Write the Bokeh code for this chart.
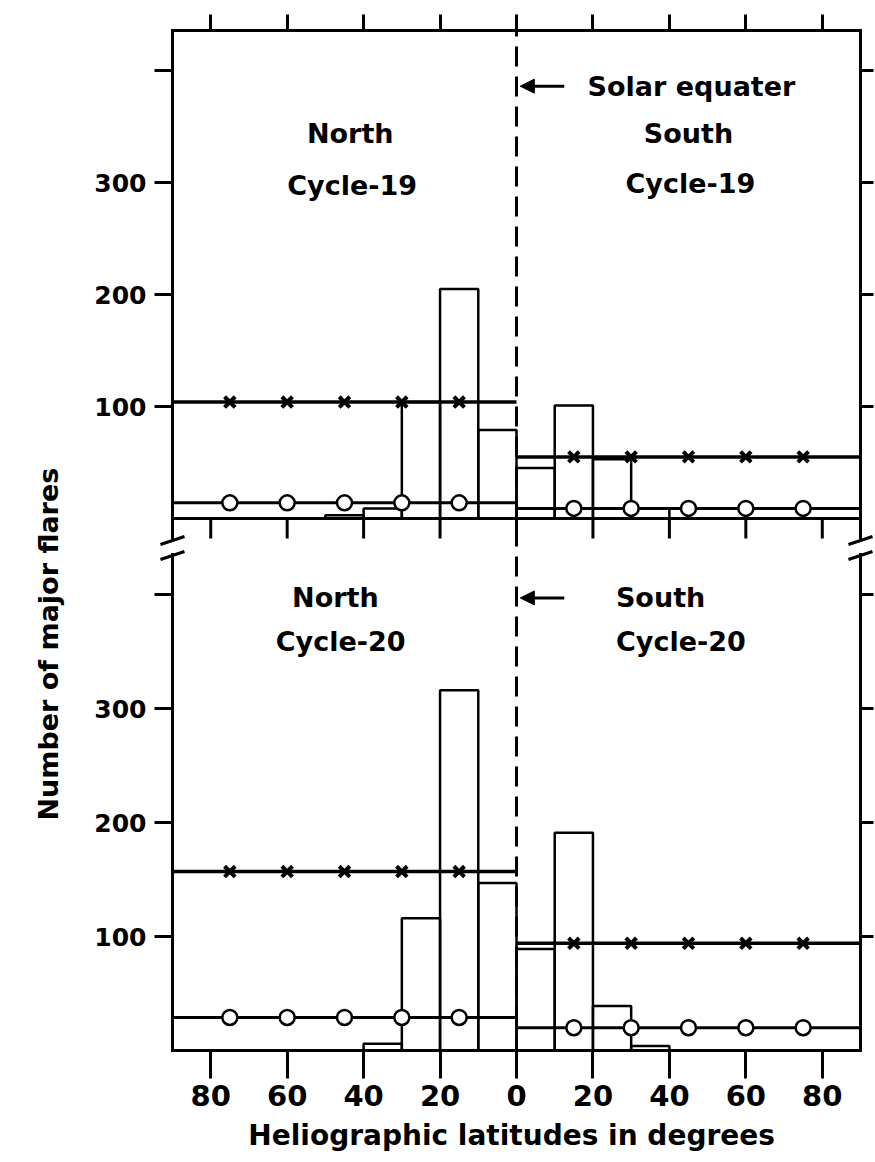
import math
from bokeh.plotting import figure
from bokeh.models import (Range1d, LinearAxis, FixedTicker, CustomJSTickFormatter,
                          Span, Arrow, NormalHead, Title)
from bokeh.embed import file_html
from bokeh.resources import INLINE
from bokeh.core.properties import value

# ---------------- data ----------------
bin_low = [0, 10, 20, 30, 40]            # |latitude| lower edge of 10-degree bins
c19_north = [79, 205, 104, 9, 3]         # Cycle-19 northern hemisphere counts
c19_south = [45, 101, 53, 9, 0]          # Cycle-19 southern hemisphere counts
c20_north = [147, 316, 116, 6, 0]        # Cycle-20 northern hemisphere counts
c20_south = [89, 191, 39, 4, 0]          # Cycle-20 southern hemisphere counts
c19_cross = [104, 55]                    # north, south level (x-marked line)
c19_ring = [14, 9]                       # north, south level (o-marked line)
c20_cross = [157, 94]
c20_ring = [29, 20]
marker_lat = [15, 30, 45, 60, 75]
x_ticks = [-80, -60, -40, -20, 0, 20, 40, 60, 80]
y_ticks = [100, 200, 300, 400]

FONT = "DejaVu Sans"
FSTYLE = "bold"

# ---------------- geometry ----------------
PAD = 14                # frame padding (px) so the drawn box and break marks are not clipped
BOX_W, BOX_H = 688, 1020
X_SCALE = BOX_W / 180.0
B_SCALE = 1.14          # px per flare, lower panel
T_SCALE = 1.12          # px per flare, upper panel
T_BASE_PX = 532         # upper panel baseline, px above box bottom
M_TOP = BOX_H / B_SCALE
T_BOT = -T_BASE_PX / T_SCALE
T_TOP = (BOX_H - T_BASE_PX) / T_SCALE
m0, m1 = -PAD / B_SCALE, M_TOP + PAD / B_SCALE
t0, t1 = T_BOT - PAD / T_SCALE, T_TOP + PAD / T_SCALE
k_tm = (t1 - t0) / (m1 - m0)
xpad = PAD / X_SCALE

def top_to_main(v):
    return m0 + (v - t0) / k_tm

p = figure(frame_width=BOX_W + 2 * PAD, frame_height=BOX_H + 2 * PAD,
           x_range=Range1d(-90 - xpad, 90 + xpad), y_range=Range1d(m0, m1),
           x_axis_location=None, y_axis_location=None,
           output_backend="svg", toolbar_location=None,
           min_border_left=172 - PAD, min_border_top=30 - PAD,
           min_border_right=0, min_border_bottom=0)
p.extra_y_ranges = {"top": Range1d(t0, t1)}
p.grid.visible = False
p.outline_line_color = None

# ---------------- axes ----------------
def style_axis(ax, tick_len, font_size, standoff):
    ax.axis_line_color = None
    ax.major_tick_out = tick_len - PAD
    ax.major_tick_in = PAD
    ax.major_tick_line_width = 3
    ax.major_tick_line_color = "black"
    ax.minor_tick_line_color = None
    ax.major_label_text_font = FONT
    ax.major_label_text_font_style = FSTYLE
    ax.major_label_text_font_size = font_size
    ax.major_label_text_color = "black"
    ax.major_label_standoff = standoff

blank = CustomJSTickFormatter(code="return '';")

xb = LinearAxis(ticker=FixedTicker(ticks=x_ticks),
                formatter=CustomJSTickFormatter(code="return Math.abs(tick).toString();"))
style_axis(xb, 28, "29px", 6)
xb.axis_label = "Heliographic  latitudes in degrees"
xb.axis_label_text_font = FONT
xb.axis_label_text_font_size = "28px"
xb.axis_label_text_font_style = FSTYLE
xb.axis_label_text_color = "black"
xb.axis_label_standoff = 10
p.add_layout(xb, "below")

xt = LinearAxis(ticker=FixedTicker(ticks=x_ticks), formatter=blank)
style_axis(xt, 16, "1px", 0)
p.add_layout(xt, "above")

split = top_to_main(0) - 10
left_ticks = list(y_ticks) + [top_to_main(v) for v in y_ticks]
ylab_fmt = CustomJSTickFormatter(
    args=dict(split=split, m0=m0, t0=t0, k=k_tm),
    code="""
    let v = tick > split ? Math.round((tick - m0) * k + t0) : Math.round(tick);
    return v >= 400 ? '' : v.toString();
    """)
yl = LinearAxis(ticker=FixedTicker(ticks=left_ticks), formatter=ylab_fmt)
style_axis(yl, 18, "25px", 8)
p.add_layout(yl, "left")

yr = LinearAxis(ticker=FixedTicker(ticks=left_ticks), formatter=blank)
style_axis(yr, 13, "1px", 0)
p.add_layout(yr, "right")

p.add_layout(Title(text="Number of major flares", text_font=FONT, text_font_style=FSTYLE,
                   text_font_size="27px", text_color="black", align="left",
                   vertical_align="top", standoff=52, offset=244), "left")

# ---------------- box, panel baseline, breaks ----------------
box = dict(line_color="black", line_width=3, line_cap="square")
gap_hi_t = -19 / T_SCALE                       # upper side lines end here (top units)
gap_lo_m = top_to_main(gap_hi_t) - 17 / B_SCALE  # lower side lines start here (main units)
p.segment(x0=[-90, -90, 90], x1=[90, -90, 90], y0=[T_TOP, T_TOP, T_TOP],
          y1=[T_TOP, gap_hi_t, gap_hi_t], y_range_name="top", **box)
p.segment(x0=[-90, -90, 90], x1=[90, -90, 90], y0=[0, 0, 0],
          y1=[0, gap_lo_m, gap_lo_m], **box)
p.segment(x0=-90, x1=90, y0=0, y1=0, y_range_name="top", line_color="black", line_width=3)
p.segment(x0=x_ticks, x1=x_ticks, y0=[0] * len(x_ticks), y1=[-20 / T_SCALE] * len(x_ticks),
          y_range_name="top", line_color="black", line_width=3)
bx0, bx1, by = [], [], []
gap_hi_m = top_to_main(gap_hi_t)
for xe in (-90, 90):
    for yc in (gap_hi_m - 3 / B_SCALE, gap_lo_m - 1 / B_SCALE):
        bx0.append(xe - 12 / X_SCALE); bx1.append(xe + 12 / X_SCALE); by.append(yc)
p.segment(x0=bx0, x1=bx1, y0=[y - 4 / B_SCALE for y in by], y1=[y + 4 / B_SCALE for y in by],
          line_color="black", line_width=3)

# ---------------- bars ----------------
def draw_bars(north, south, rng):
    left, right, top = [], [], []
    for lo, n, s in zip(bin_low, north, south):
        if n > 0:
            left.append(-(lo + 10)); right.append(-lo); top.append(n)
        if s > 0:
            left.append(lo); right.append(lo + 10); top.append(s)
    kw = {} if rng is None else {"y_range_name": rng}
    p.quad(left=left, right=right, bottom=[0] * len(top), top=top,
           fill_color=None, line_color="black", line_width=2.5, **kw)

def draw_levels(cross, ring, rng):
    kw = {} if rng is None else {"y_range_name": rng}
    for sign, xv, ov in ((-1, cross[0], ring[0]), (1, cross[1], ring[1])):
        p.segment(x0=0, x1=90 * sign, y0=xv, y1=xv, line_color="black", line_width=3.5, **kw)
        p.segment(x0=0, x1=90 * sign, y0=ov, y1=ov, line_color="black", line_width=3, **kw)
        mx = [sign * m for m in marker_lat]
        p.scatter(x=mx, y=[xv] * len(mx), marker="x", size=15, line_width=4,
                  line_color="black", **kw)
        p.scatter(x=mx, y=[ov] * len(mx), marker="circle", size=15, line_width=2.5,
                  line_color="black", fill_color="white", **kw)

draw_bars(c19_north, c19_south, "top")
draw_bars(c20_north, c20_south, None)
draw_levels(c19_cross, c19_ring, "top")
draw_levels(c20_cross, c20_ring, None)

# equator
p.add_layout(Span(location=0, dimension="height", line_color="black",
                  line_width=3, line_dash="20 10"))

# ---------------- texts ----------------
tk = dict(text_font=value(FONT), text_font_style=FSTYLE, text_font_size="27px",
          text_color="black", text_align="center", text_baseline="middle")
p.text(x=[-43.5, -43, 45, 45.5], y=[344, 297, 344, 299],
       text=["North", "Cycle-19", "South", "Cycle-19"], y_range_name="top", **tk)
p.text(x=[18.6], y=[386], text=["Solar equater"], y_range_name="top",
       text_font=value(FONT), text_font_style=FSTYLE, text_font_size="27px",
       text_align="left", text_baseline="middle")
p.text(x=[-47.4, -46, 37.7, 43], y=[397, 359, 397, 359],
       text=["North", "Cycle-20", "South", "Cycle-20"], **tk)

for yv, rng in ((386, "top"), (397, "default")):
    p.add_layout(Arrow(end=NormalHead(size=14, fill_color="black", line_color="black"),
                       x_start=12.5, y_start=yv, x_end=1, y_end=yv,
                       line_width=3, y_range_name=rng))

open("out.html", "w").write(file_html(p, INLINE))
